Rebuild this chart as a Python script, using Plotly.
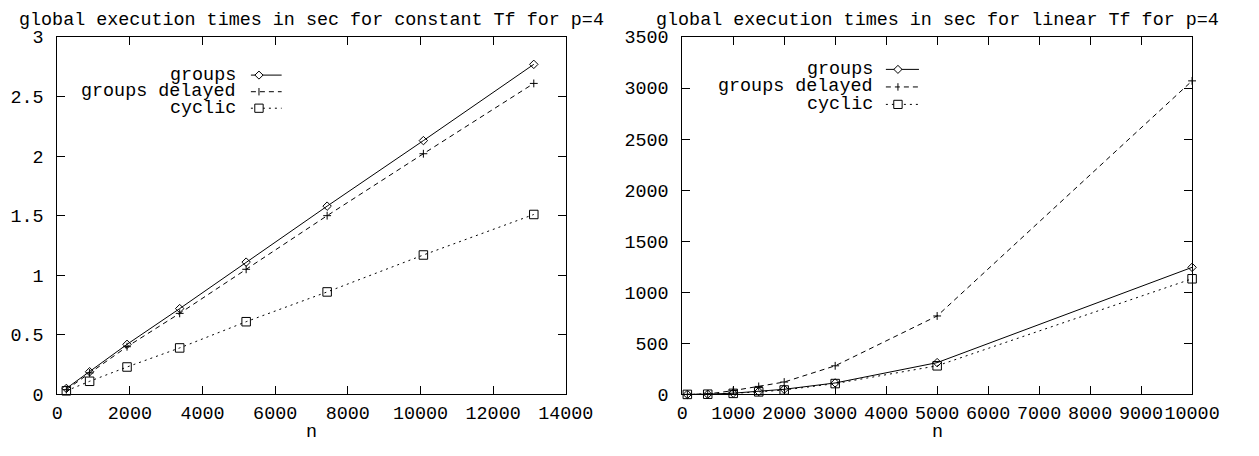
import plotly.graph_objects as go

# ---------------- data ----------------
n_const = [250, 890, 1920, 3370, 5200, 7430, 10080, 13120]
groups_const = [0.05, 0.19, 0.42, 0.72, 1.11, 1.58, 2.13, 2.77]
delayed_const = [0.04, 0.18, 0.40, 0.68, 1.05, 1.50, 2.02, 2.61]
cyclic_const = [0.03, 0.11, 0.23, 0.39, 0.61, 0.86, 1.17, 1.51]

n_lin = [100, 500, 1000, 1500, 2000, 3000, 5000, 10000]
groups_lin = [0, 2, 12, 28, 50, 112, 311, 1244]
delayed_lin = [0, 4, 37, 78, 121, 280, 768, 3070]
cyclic_lin = [0, 2, 10, 25, 43, 106, 280, 1132]

series_names = ["groups", "groups delayed", "cyclic"]
titles = ["global execution times in sec for constant Tf for p=4",
          "global execution times in sec for linear Tf for p=4"]

# ---------------- layout constants (page pixels) ----------------
W, H = 1259, 456
FONT = "Liberation Mono, Courier New, monospace"
FS = 18.4
TXT = "black"

def px(x):
    return x / W

def py(y):
    return 1 - y / H

L1, R1 = 52.7, 575.3
L2, R2 = 695.0, 1219.0
TOP, BOT = 29.3, 404.0

styles = [
    dict(dash="solid", symbol="diamond-open", size=6.5),
    dict(dash="5px,4px", symbol="cross-thin-open", size=5.6),
    dict(dash="2px,4px", symbol="square-open", size=8.5),
]

fig = go.Figure()

const_sets = [groups_const, delayed_const, cyclic_const]
lin_sets = [groups_lin, delayed_lin, cyclic_lin]

for xa, ya, nvals, sets in [("x", "y", n_const, const_sets), ("x2", "y2", n_lin, lin_sets)]:
    for name, ys, st in zip(series_names, sets, styles):
        fig.add_trace(go.Scatter(
            x=nvals, y=ys, name=name, mode="lines+markers",
            line=dict(color="black", width=1, dash=st["dash"]),
            marker=dict(symbol=st["symbol"], size=st["size"], color="black",
                        line=dict(color="black", width=1)),
            xaxis=xa, yaxis=ya, showlegend=False, cliponaxis=False))

axis_common = dict(
    showline=True, linecolor="black", linewidth=1, mirror="allticks",
    ticks="inside", ticklen=8, tickcolor="black", tickwidth=1,
    showgrid=False, zeroline=False,
    tickfont=dict(family=FONT, size=FS, color=TXT),
    tickangle=0,
)
XSTAND, YSTAND = 2, 9

fig.update_layout(
    width=W, height=H,
    margin=dict(l=0, r=0, t=0, b=0),
    paper_bgcolor="white", plot_bgcolor="white",
    showlegend=False,
    xaxis=dict(domain=[px(L1), px(R1)], range=[0, 14000], dtick=2000,
               tickformat="d", anchor="y", ticklabelstandoff=XSTAND, **axis_common),
    yaxis=dict(domain=[py(BOT), py(TOP)], range=[0, 3], dtick=0.5,
               anchor="x", ticklabelstandoff=YSTAND, **axis_common),
    xaxis2=dict(domain=[px(L2), px(R2)], range=[0, 10000], dtick=1000,
                tickformat="d", anchor="y2", ticklabelstandoff=XSTAND, **axis_common),
    yaxis2=dict(domain=[py(BOT), py(TOP)], range=[0, 3500], dtick=500,
                tickformat="d", anchor="x2", ticklabelstandoff=YSTAND, **axis_common),
)

for title, (l, r) in zip(titles, [(L1, R1), (L2, R2)]):
    fig.add_annotation(text=title, x=px((l + r) / 2), y=py(12), xref="paper", yref="paper",
                       showarrow=False, xanchor="center", yanchor="middle",
                       font=dict(family=FONT, size=FS, color=TXT))
    fig.add_annotation(text="n", x=px((l + r) / 2), y=py(444), xref="paper", yref="paper",
                       showarrow=False, xanchor="center", yanchor="middle",
                       font=dict(family=FONT, size=FS, color=TXT))

# gnuplot-style keys: text right-aligned, then a sample line with its marker
keys = [
    dict(text_right=238.5, line_l=251.7, line_r=283.3, mark_x=260, rows=[69.3, 86.7, 104]),
    dict(text_right=893.3, line_l=904.3, line_r=938.3, mark_x=916.7, rows=[63.3, 81.7, 100]),
]
for k in keys:
    for name, st, ry in zip(series_names, styles, k["rows"]):
        fig.add_annotation(text=name, x=px(k["text_right"]), y=py(ry), xref="paper", yref="paper",
                           showarrow=False, xanchor="right", yanchor="middle",
                           font=dict(family=FONT, size=FS, color=TXT))
        fig.add_shape(type="line", xref="paper", yref="paper",
                      x0=px(k["line_l"]), x1=px(k["line_r"]), y0=py(ry), y1=py(ry),
                      line=dict(color="black", width=1, dash=st["dash"]))
        mx = k["mark_x"]
        if st["symbol"].startswith("diamond"):
            s = 4.2
            path = (f"M{px(mx)},{py(ry - s)} L{px(mx + s)},{py(ry)} "
                    f"L{px(mx)},{py(ry + s)} L{px(mx - s)},{py(ry)} Z")
            fig.add_shape(type="path", path=path, xref="paper", yref="paper",
                          fillcolor="white", line=dict(color="black", width=1))
        elif st["symbol"].startswith("square"):
            s = 4.3
            fig.add_shape(type="rect", xref="paper", yref="paper",
                          x0=px(mx - s), x1=px(mx + s), y0=py(ry + s), y1=py(ry - s),
                          fillcolor="white", line=dict(color="black", width=1))
        else:
            s = 3.9
            fig.add_shape(type="line", xref="paper", yref="paper",
                          x0=px(mx), x1=px(mx), y0=py(ry + s), y1=py(ry - s),
                          line=dict(color="black", width=1))

# the browser's default 8px body margin would shift the figure; remove it
fig.write_html("out.html", config={"displayModeBar": False},
               post_script="document.body.style.margin='0';")
